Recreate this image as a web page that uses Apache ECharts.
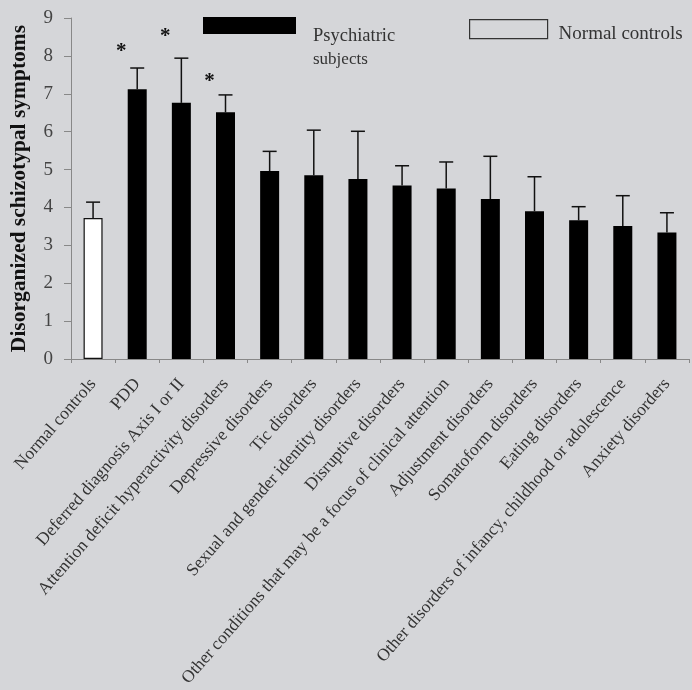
<!DOCTYPE html>
<html>
<head>
<meta charset="utf-8">
<script src="https://cdn.jsdelivr.net/npm/echarts@6/dist/echarts.min.js"></script>
<style>
  html, body { margin: 0; padding: 0; background: #d5d6d9; }
  #chart { width: 692px; height: 690px; }
</style>
</head>
<body>
<div id="chart"></div>
<script>
// Diagnostic groups, in plotted order
const categories = [
  'Normal controls',
  'PDD',
  'Deferred diagnosis Axis I or II',
  'Attention deficit hyperactivity disorders',
  'Depressive disorders',
  'Tic disorders',
  'Sexual and gender identity disorders',
  'Disruptive disorders',
  'Other conditions that may be a focus of clinical attention',
  'Adjustment disorders',
  'Somatoform disorders',
  'Eating disorders',
  'Other disorders of infancy, childhood or adolescence',
  'Anxiety disorders'
];
// Mean disorganized schizotypal score per group
const means = [3.72, 7.12, 6.76, 6.51, 4.96, 4.85, 4.75, 4.58, 4.50, 4.22, 3.90, 3.66, 3.51, 3.34];
// Upper end of the error bar (mean + SE)
const errorTops = [4.14, 7.68, 7.94, 6.97, 5.48, 6.04, 6.01, 5.10, 5.20, 5.35, 4.81, 4.02, 4.31, 3.86];
// Height of the significance asterisk (null = not significant vs controls)
const starHeights = [null, 8.22, 8.61, 7.42, null, null, null, null, null, null, null, null, null, null];
const yTicks = [0, 1, 2, 3, 4, 5, 6, 7, 8, 9];

const serif = '"Liberation Serif", "DejaVu Serif", serif';
const bg = '#d5d6d9';

const controlData = means.map((v, i) => i === 0 ? v : '-');
const patientData = means.map((v, i) => i === 0 ? '-' : v);
const errData = means.map((v, i) => [i, v, errorTops[i], starHeights[i] == null ? -1 : starHeights[i]]);

const chart = echarts.init(document.getElementById('chart'), null, { renderer: 'canvas' });
chart.setOption({
  backgroundColor: bg,
  animation: false,
  grid: { left: 69, right: 3, top: 18, bottom: 331, containLabel: false },
  legend: [
    {
      data: ['Psychiatric subjects'],
      left: 198, top: 12,
      itemWidth: 93, itemHeight: 17,
      icon: 'rect',
      selectedMode: false,
      formatter: () => '{a|Psychiatric}\n{b|subjects}',
      textStyle: {
        padding: [45, 0, 0, 12],
        rich: {
          a: { fontFamily: serif, fontSize: 18.5, color: '#333', lineHeight: 23 },
          b: { fontFamily: serif, fontSize: 17, color: '#333', lineHeight: 23 }
        }
      }
    },
    {
      data: ['Normal controls'],
      left: 464, top: 14,
      itemWidth: 78, itemHeight: 19,
      icon: 'rect',
      selectedMode: false,
      itemStyle: { color: bg, borderColor: '#333', borderWidth: 1.2 },
      formatter: () => '{n|Normal controls}',
      textStyle: {
        padding: [0, 0, 0, 6],
        rich: { n: { fontFamily: serif, fontSize: 19, color: '#333', padding: [9, 0, 0, 0] } }
      }
    }
  ],
  xAxis: {
    type: 'category',
    data: categories,
    axisLine: { lineStyle: { color: '#888', width: 1 } },
    axisTick: { show: true, alignWithLabel: false, length: 4, lineStyle: { color: '#888' } },
    axisLabel: {
      interval: 0, rotate: 49, margin: 22,
      fontFamily: serif, fontSize: 17.5, color: '#333'
    }
  },
  yAxis: {
    type: 'value',
    min: yTicks[0], max: yTicks[yTicks.length - 1], interval: 1,
    name: 'Disorganized schizotypal symptoms',
    nameLocation: 'middle',
    nameGap: 41,
    nameTextStyle: { fontFamily: serif, fontSize: 21.5, fontWeight: 'bold', color: '#111' },
    axisLine: { show: true, lineStyle: { color: '#888', width: 1 } },
    axisTick: { show: true, length: 7, lineStyle: { color: '#888' } },
    splitLine: { show: false },
    axisLabel: { fontFamily: serif, fontSize: 19, color: '#444', margin: 18 }
  },
  series: [
    {
      name: 'Normal controls',
      type: 'bar',
      stack: 'g',
      barWidth: 19,
      data: controlData,
      itemStyle: { color: '#ffffff', borderColor: '#111', borderWidth: 1.2 }
    },
    {
      name: 'Psychiatric subjects',
      type: 'bar',
      stack: 'g',
      barWidth: 18,
      data: patientData,
      itemStyle: { color: '#000000' }
    },
    {
      name: 'SE',
      type: 'custom',
      data: errData,
      z: 5,
      renderItem: (params, api) => {
        const top = api.coord([api.value(0), api.value(1)]);
        const cap = api.coord([api.value(0), api.value(2)]);
        const half = 7;
        const children = [
          { type: 'line', shape: { x1: top[0], y1: top[1], x2: cap[0], y2: cap[1] },
            style: { stroke: '#111', lineWidth: 1.5 } },
          { type: 'line', shape: { x1: cap[0] - half, y1: cap[1], x2: cap[0] + half, y2: cap[1] },
            style: { stroke: '#111', lineWidth: 1.5 } }
        ];
        if (api.value(3) >= 0) {
          const star = api.coord([api.value(0), api.value(3)]);
          children.push({
            type: 'text',
            style: {
              text: '*', x: star[0] - 16, y: star[1] + 4,
              fontFamily: serif, fontSize: 21, fontWeight: 'bold', fill: '#111',
              textAlign: 'center', textVerticalAlign: 'middle'
            }
          });
        }
        return { type: 'group', children };
      }
    }
  ]
});
</script>
</body>
</html>
